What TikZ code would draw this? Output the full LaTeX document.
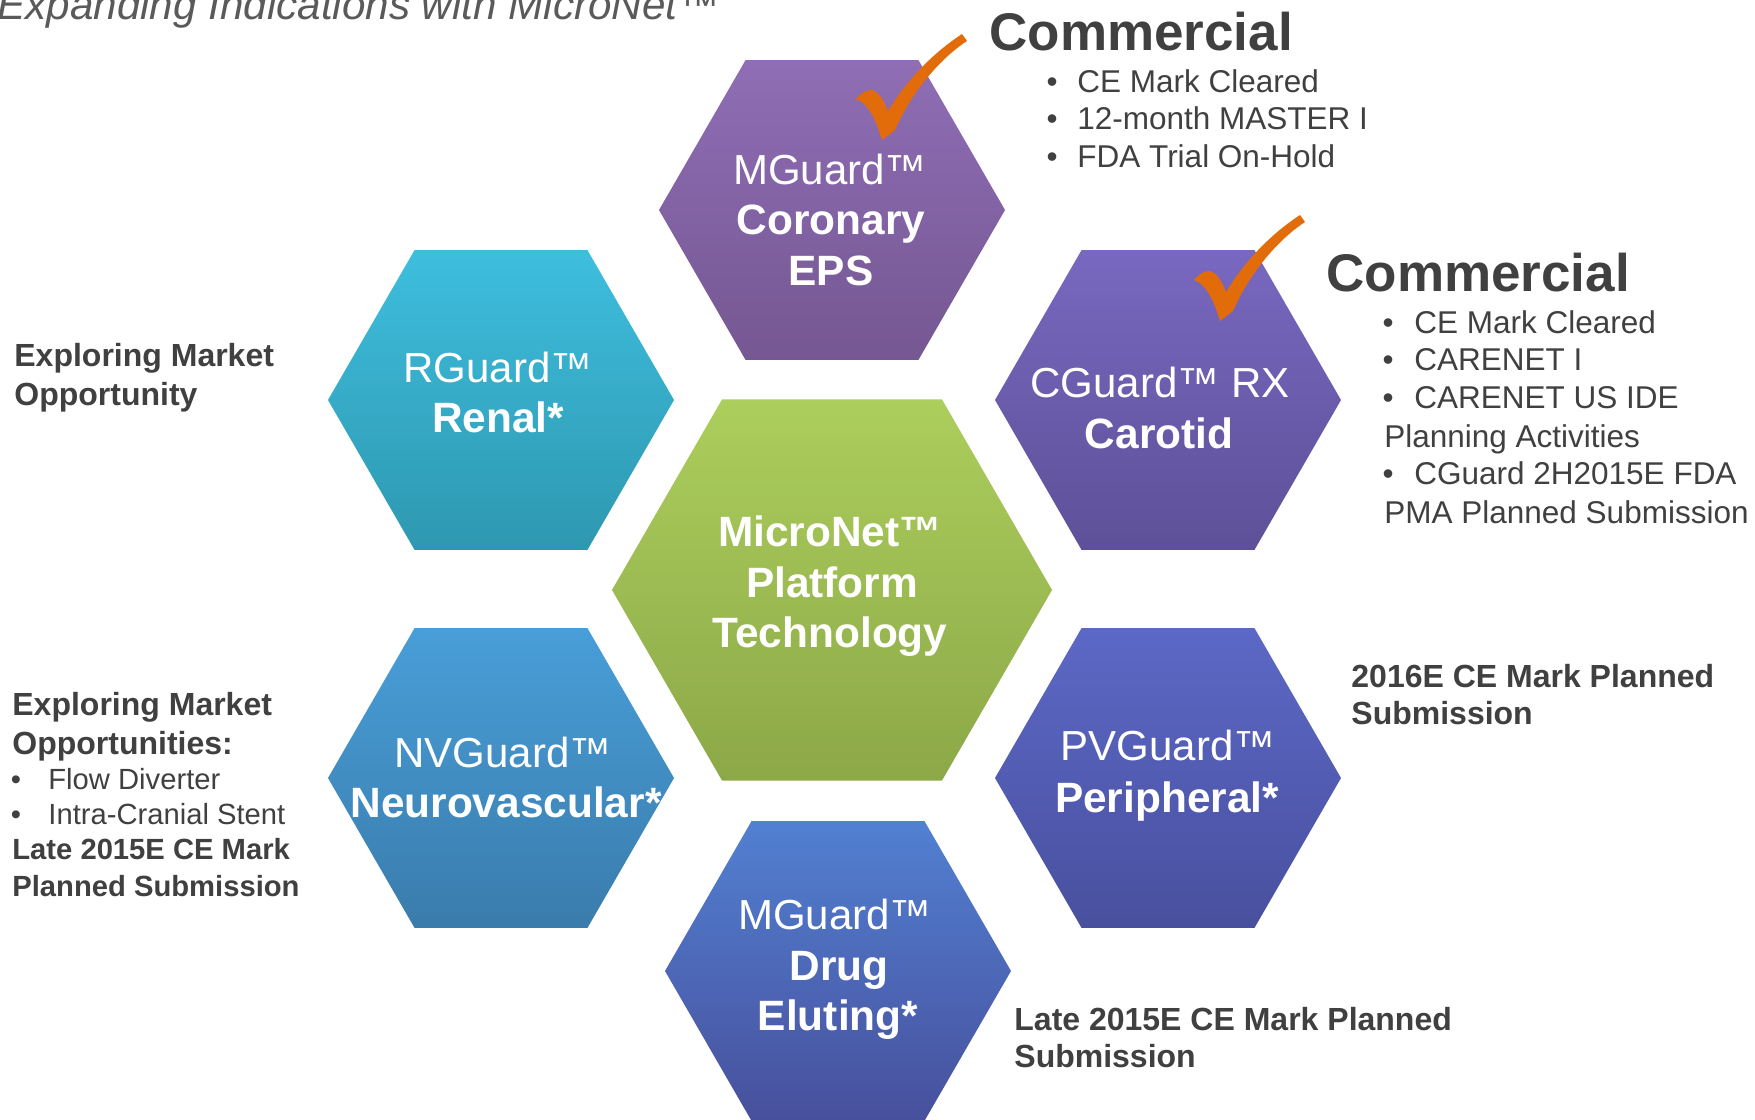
\documentclass[tikz,border=0pt]{standalone}
\usepackage{fontspec}
\setmainfont{Liberation Sans}
\usetikzlibrary{shapes.geometric}
\definecolor{sidegray}{HTML}{404040}
\definecolor{titlegray}{HTML}{5A5A5A}
\definecolor{chk}{HTML}{E36C0A}
\definecolor{aTop}{HTML}{8F6EB5}\definecolor{aBot}{HTML}{755792}
\definecolor{rTop}{HTML}{3EBEDE}\definecolor{rBot}{HTML}{2E98B0}
\definecolor{cTop}{HTML}{7868C0}\definecolor{cBot}{HTML}{5E5098}
\definecolor{mTop}{HTML}{ACCE5C}\definecolor{mBot}{HTML}{8CA848}
\definecolor{nTop}{HTML}{489ED8}\definecolor{nBot}{HTML}{3A7CAC}
\definecolor{pTop}{HTML}{5C68C6}\definecolor{pBot}{HTML}{48509E}
\definecolor{dTop}{HTML}{5280D2}\definecolor{dBot}{HTML}{47509C}
\begin{document}
\begin{tikzpicture}[x=0.5pt,y=-0.5pt,
  hexbase/.style={regular polygon, regular polygon sides=6, draw=none, inner sep=0pt, outer sep=0pt},
  hexsmall/.style={hexbase, minimum size=173pt},
  hexbig/.style={hexbase, minimum size=220pt},
  htxt/.style={text=white, anchor=base, inner sep=0pt, font=\fontsize{21}{25}\selectfont},
  htxtb/.style={htxt, font=\fontsize{21.2}{25}\selectfont\bfseries},
  side/.style={text=sidegray, anchor=base west, inner sep=0pt, font=\fontsize{15.75}{19}\selectfont},
  sideb/.style={side, font=\fontsize{16}{19}\selectfont\bfseries},
  sidesm/.style={side, font=\fontsize{14.6}{17}\selectfont},
  sidesmb/.style={side, font=\fontsize{14.6}{17}\selectfont\bfseries},
  comm/.style={text=sidegray, anchor=base west, inner sep=0pt, font=\fontsize{26.5}{30}\selectfont\bfseries},
  bul/.style={text=sidegray, anchor=base, inner sep=0pt, font=\fontsize{15.75}{19}\selectfont},
  bulsm/.style={text=sidegray, anchor=base, inner sep=0pt, font=\fontsize{14.6}{17}\selectfont},
  chkmark/.style={fill=chk, draw=none}
]
\useasboundingbox (0,0) rectangle (1755,1119);
\fill[white] (0,0) rectangle (1755,1119);

% title
\node[text=titlegray, anchor=base west, inner sep=0pt, font=\fontsize{21.1}{24}\selectfont\itshape] (title) at (-3,19) {Expanding Indications with MicroNet™};

% hexagons
\node[hexsmall, top color=aTop, bottom color=aBot] (hexA) at (832,210) {};
\node[hexsmall, top color=rTop, bottom color=rBot] (hexR) at (501,400) {};
\node[hexsmall, top color=cTop, bottom color=cBot] (hexC) at (1168,400) {};
\node[hexbig,   top color=mTop, bottom color=mBot] (hexM) at (832,590) {};
\node[hexsmall, top color=nTop, bottom color=nBot] (hexN) at (501,778) {};
\node[hexsmall, top color=pTop, bottom color=pBot] (hexP) at (1168,778) {};
\node[hexsmall, top color=dTop, bottom color=dBot] (hexD) at (838,971) {};

% hexagon texts
\node[htxt]  (a1) at (830,184) {MGuard™};
\node[htxtb] (a2) at (831,234) {Coronary};
\node[htxtb] (a3) at (831,285) {EPS};

\node[htxt]  (r1) at (498,382) {RGuard™};
\node[htxtb] (r2) at (498,432) {Renal*};

\node[htxt]  (c1) at (1160,397) {CGuard™ RX};
\node[htxtb] (c2) at (1159,448) {Carotid};

\node[htxtb] (m1) at (830,546) {MicroNet™};
\node[htxtb] (m2) at (832,597) {Platform};
\node[htxtb] (m3) at (830,647) {Technology};

\node[htxt]  (n1) at (503,767) {NVGuard™};
\node[htxtb] (n2) at (506,817) {Neurovascular*};

\node[htxt]  (p1) at (1168,760) {PVGuard™};
\node[htxtb] (p2) at (1167,812) {Peripheral*};

\node[htxt]  (d1) at (835,929) {MGuard™};
\node[htxtb] (d2) at (839,980) {Drug};
\node[htxtb] (d3) at (838,1030) {Eluting*};

% check marks
\fill[chkmark] (882,140) .. controls (877,124) and (870,104) .. (856,99)
  .. controls (861,93) and (866,90) .. (871,90)
  .. controls (879,91) and (884,101) .. (888,111)
  .. controls (905,83) and (930,55) .. (962,34)
  -- (967,41)
  .. controls (938,60) and (910,95) .. (895,130) -- cycle;
\begin{scope}[shift={(338,181)}]
\fill[chkmark] (882,140) .. controls (877,124) and (870,104) .. (856,99)
  .. controls (861,93) and (866,90) .. (871,90)
  .. controls (879,91) and (884,101) .. (888,111)
  .. controls (905,83) and (930,55) .. (962,34)
  -- (967,41)
  .. controls (938,60) and (910,95) .. (895,130) -- cycle;
\end{scope}

% top commercial block
\node[comm] (com1) at (989,50) {Commercial};
\node[bul] (b11) at (1052,92) {•};
\node[side] (t11) at (1077,92) {CE Mark Cleared};
\node[bul] (b12) at (1052,129) {•};
\node[side] (t12) at (1077,129) {12-month MASTER I};
\node[bul] (b13) at (1052,167) {•};
\node[side] (t13) at (1077,167) {FDA Trial On-Hold};

% right commercial block
\node[comm] (com2) at (1326,291) {Commercial};
\node[bul] (b21) at (1388,333) {•};
\node[side] (t21) at (1414,333) {CE Mark Cleared};
\node[bul] (b22) at (1388,370) {•};
\node[side] (t22) at (1414,370) {CARENET I};
\node[bul] (b23) at (1388,408) {•};
\node[side] (t23) at (1414,408) {CARENET US IDE};
\node[side] (t24) at (1384,447) {Planning Activities};
\node[bul] (b25) at (1388,484) {•};
\node[side] (t25) at (1414,484) {CGuard 2H2015E FDA};
\node[side] (t26) at (1384,523) {PMA Planned Submission};

% left upper
\node[sideb] (l1) at (14,366) {Exploring Market};
\node[sideb] (l2) at (14,405) {Opportunity};

% left lower
\node[sideb] (ll1) at (12,715) {Exploring Market};
\node[sideb] (ll2) at (12,754) {Opportunities:};
\node[bulsm] (lb1) at (16,789) {•};
\node[sidesm] (ll3) at (48,789) {Flow Diverter};
\node[bulsm] (lb2) at (16,824) {•};
\node[sidesm] (ll4) at (48,824) {Intra-Cranial Stent};
\node[sidesmb] (ll5) at (12,859) {Late 2015E CE Mark};
\node[sidesmb] (ll6) at (12,896) {Planned Submission};

% right middle
\node[sideb] (rm1) at (1351,687) {2016E CE Mark Planned};
\node[sideb] (rm2) at (1351,724) {Submission};

% bottom right
\node[sideb] (br1) at (1014,1030) {Late 2015E CE Mark Planned};
\node[sideb] (br2) at (1014,1067) {Submission};
\end{tikzpicture}
\end{document}
